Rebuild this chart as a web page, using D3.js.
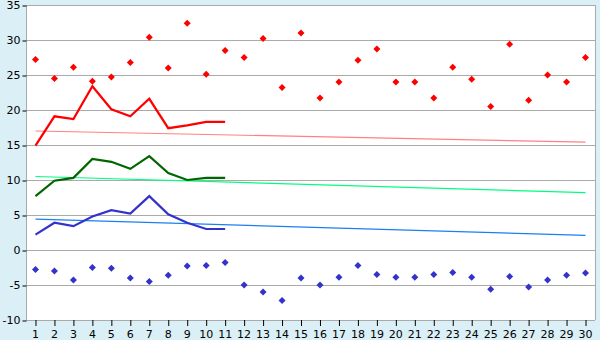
<!DOCTYPE html>
<html><head><meta charset="utf-8">
<script src="https://cdn.jsdelivr.net/npm/d3@7"></script>
<style>body{margin:0;background:#dbeff6;}svg{display:block;}</style>
</head><body>
<svg id="c" width="600" height="340"></svg>
<script>
const days = d3.range(1, 31);
const maxVals = [27.2,24.5,26.1,24.1,24.7,26.8,30.4,26.0,32.4,25.1,28.5,27.5,30.2,23.2,31.0,21.7,24.0,27.1,28.7,24.0,24.0,21.7,26.1,24.4,20.5,29.4,21.4,25.0,24.0,27.5];
const minVals = [-2.8,-3.0,-4.3,-2.5,-2.6,-4.0,-4.5,-3.6,-2.3,-2.2,-1.8,-5.0,-6.0,-7.2,-4.0,-5.0,-3.9,-2.2,-3.5,-3.9,-3.9,-3.5,-3.2,-3.9,-5.6,-3.8,-5.3,-4.3,-3.6,-3.3];
const maxAvg = [14.9,19.1,18.7,23.4,20.1,19.1,21.6,17.4,17.8,18.3,18.3];
const meanAvg = [7.7,9.9,10.3,13.0,12.6,11.6,13.4,11.0,10.0,10.3,10.3];
const minAvg = [2.2,3.9,3.4,4.8,5.7,5.2,7.7,5.1,3.9,3.0,3.0];
const maxTrend = [17.0, 15.4];
const meanTrend = [10.5, 8.2];
const minTrend = [4.4, 2.1];
const yTicks = [-10,-5,0,5,10,15,20,25,30,35];

const svg = d3.select("#c");
const L = 26, R = 595, T = 5, B = 320;
const x = d3.scaleBand().domain(days).range([L, R]);
const xc = d => x(d) + x.bandwidth()/2;
const y = d3.scaleLinear().domain([-10, 35]).range([B, T]);

svg.append("rect").attr("x", L).attr("y", T).attr("width", R-L).attr("height", B-T).attr("fill", "#fff");

// grid
svg.append("g").selectAll("line").data(yTicks).join("line")
  .attr("x1", L).attr("x2", R).attr("y1", d => y(d)+0.5).attr("y2", d => y(d)+0.5)
  .attr("stroke", "#aaaaaa").attr("stroke-width", 1);
// border
svg.append("line").attr("x1", R+0.5).attr("x2", R+0.5).attr("y1", T).attr("y2", B).attr("stroke", "#aaaaaa");
svg.append("line").attr("x1", L+0.5).attr("x2", L+0.5).attr("y1", T).attr("y2", B+1).attr("stroke", "#aaaaaa");

// y axis
const yAxis = svg.append("g").attr("transform", `translate(${L+0.5},0)`)
  .call(d3.axisLeft(y).tickValues(yTicks).tickSize(4).tickPadding(2).tickFormat(d => String(d)));
yAxis.select(".domain").remove();
yAxis.selectAll(".tick line").attr("stroke", "#000").attr("transform", "translate(0,0.5)");
yAxis.selectAll("text").attr("font-family", "DejaVu Sans, Verdana, sans-serif").attr("font-size", 11).attr("fill", "#000");

// x axis
const xAxis = svg.append("g").attr("transform", `translate(0,${B})`)
  .call(d3.axisBottom(x).tickSize(6).tickPadding(4));
xAxis.select(".domain").remove();
xAxis.selectAll(".tick line").attr("stroke", "#000").attr("transform", "translate(0.5,0)");
xAxis.selectAll("text").attr("font-family", "DejaVu Sans, Verdana, sans-serif").attr("font-size", 11).attr("fill", "#000");

// trend lines
const trends = [[maxTrend, "#ff8080"], [meanTrend, "#00ff80"], [minTrend, "#1a80f0"]];
trends.forEach(([t, c]) => {
  svg.append("line").attr("x1", xc(1)).attr("x2", xc(30))
    .attr("y1", y(t[0])).attr("y2", y(t[1]))
    .attr("stroke", c).attr("stroke-width", 1.2);
});

// avg lines
const line = d3.line().x((d, i) => xc(days[i])).y(d => y(d));
[[maxAvg, "#ff0000"], [meanAvg, "#006600"], [minAvg, "#3333cc"]].forEach(([v, c]) => {
  svg.append("path").datum(v).attr("d", line).attr("fill", "none").attr("stroke", c).attr("stroke-width", 2.2);
});

// markers
const diamond = "M0,-3.5L3.5,0L0,3.5L-3.5,0Z";
[[maxVals, "#ff0000"], [minVals, "#3333cc"]].forEach(([v, c]) => {
  svg.append("g").selectAll("path").data(v).join("path")
    .attr("d", diamond)
    .attr("transform", (d, i) => `translate(${xc(days[i])},${y(d)})`)
    .attr("fill", c);
});
</script>
</body></html>
